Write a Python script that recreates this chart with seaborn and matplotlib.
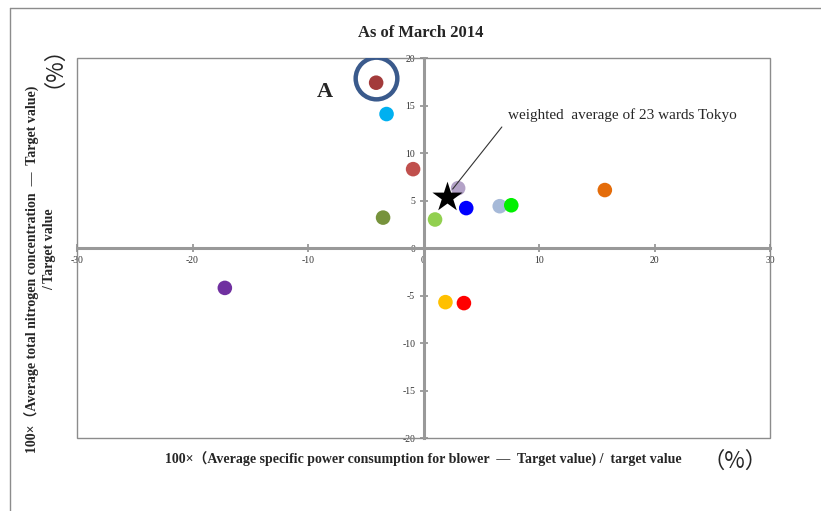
import matplotlib
matplotlib.use("Agg")
import matplotlib.pyplot as plt
from matplotlib.patches import Rectangle
from matplotlib.lines import Line2D
import pandas as pd
import seaborn as sns

# values (percent deviation from target)
ward_ids = ["A", "B", "C", "D", "E", "F", "G", "H", "I", "J", "K", "L", "M"]
power_dev = [-4.1, -3.2, -0.9, -3.5, 1.0, 3.0, 3.7, 6.6, 7.6, 15.7, -17.2, 1.9, 3.5]
nitrogen_dev = [17.4, 14.1, 8.3, 3.2, 3.0, 6.3, 4.2, 4.4, 4.5, 6.1, -4.2, -5.7, -5.8]
ward_colors = ["#a33b3b", "#00b0f0", "#c0504d", "#77933c", "#92d050", "#b3a2c7",
               "#0000ff", "#a6b9d8", "#00f000", "#e46c0a", "#7030a0", "#ffc000", "#ff0000"]

avg_power = [2.0]
avg_nitrogen = [5.4]

GRID = "#999999"

sns.set_theme(style="white")
plt.rcParams['font.family'] = ['Liberation Serif', 'Noto Sans CJK JP']
plt.rcParams['axes.unicode_minus'] = False

df = pd.DataFrame({"ward": ward_ids, "power": power_dev, "nitrogen": nitrogen_dev})
palette = dict(zip(ward_ids, ward_colors))

fig = plt.figure(figsize=(8.21, 5.11), dpi=100)
ax = fig.add_axes([77 / 821, 73 / 511, 693 / 821, 380 / 511])

sns.scatterplot(data=df, x="power", y="nitrogen", hue="ward", palette=palette,
                s=110, linewidth=0, legend=False, ax=ax, zorder=3)
sns.scatterplot(x=avg_power, y=avg_nitrogen, marker="*", s=520, color="black",
                linewidth=0, ax=ax, zorder=4)

# ring around ward A
a = df[df["ward"] == "A"].iloc[0]
ax.plot([a["power"]], [a["nitrogen"] + 0.5], marker="o", ms=30, mfc="none",
        mec="#3a5a8c", mew=3.2, zorder=5)
ax.annotate("A", xy=(a["power"], a["nitrogen"]), xytext=(-37, -6.5),
            textcoords="offset points", ha="center", va="center",
            fontsize=16, fontweight="bold")

ax.annotate("weighted  average of 23 wards Tokyo", xy=(avg_power[0], avg_nitrogen[0]),
            xytext=(44, 59), textcoords="offset points", ha="left", va="center",
            fontsize=11,
            arrowprops=dict(arrowstyle="-", color="#333333", lw=0.8,
                            relpos=(0, 0.15), shrinkA=3, shrinkB=7))

ax.set_xlim(-30, 30)
ax.set_ylim(-20, 20)
ax.set_xticks([-30, -20, -10, 0, 10, 20, 30])
ax.set_yticks([-20, -15, -10, -5, 0, 5, 10, 15, 20])
ax.set_xlabel("")
ax.set_ylabel("")

ax.spines["left"].set_position("zero")
ax.spines["bottom"].set_position("zero")
for s in ["left", "bottom"]:
    ax.spines[s].set_color(GRID)
    ax.spines[s].set_linewidth(2.2)
    ax.spines[s].set_zorder(2)
ax.spines["top"].set_visible(False)
ax.spines["right"].set_visible(False)
ax.add_patch(Rectangle((0, 0), 1, 1, transform=ax.transAxes, fill=False,
                       edgecolor="#8c8c8c", lw=1.0, clip_on=False, zorder=1))

ax.tick_params(axis="both", direction="inout", length=6, width=1.3, color=GRID,
               labelsize=7, pad=3, bottom=True, left=True)
for lab in ax.get_xticklabels() + ax.get_yticklabels():
    lab.set_color("#333333")

fig.text(0.512, 0.935, "As of March 2014", ha="center", va="center",
         fontsize=12, fontweight="bold")

fig.text(0.516, 0.100, "100×（Average specific power consumption for blower  —  Target value) /  target value",
         ha="center", va="center", fontsize=10, fontweight="bold")
fig.text(0.895, 0.098, "（%）", ha="center", va="center", fontsize=16,
         family=["Noto Sans CJK JP"])

fig.text(0.040, 0.472, "100×（Average total nitrogen concentration  —  Target value)",
         ha="center", va="center", rotation=90, fontsize=10, fontweight="bold")
fig.text(0.060, 0.513, "/ Target value", ha="center", va="center", rotation=90,
         fontsize=10, fontweight="bold")
fig.text(0.051, 0.892, "（%）", ha="center", va="center", rotation=90, fontsize=16,
         family=["Noto Sans CJK JP"])

# slide frame lines
fig.add_artist(Line2D([10 / 821, 1.0], [1 - 8 / 511, 1 - 8 / 511], color="#8c8c8c", lw=1))
fig.add_artist(Line2D([10 / 821, 10 / 821], [0, 1 - 8 / 511], color="#8c8c8c", lw=1))

fig.savefig("out.png", dpi=100)
